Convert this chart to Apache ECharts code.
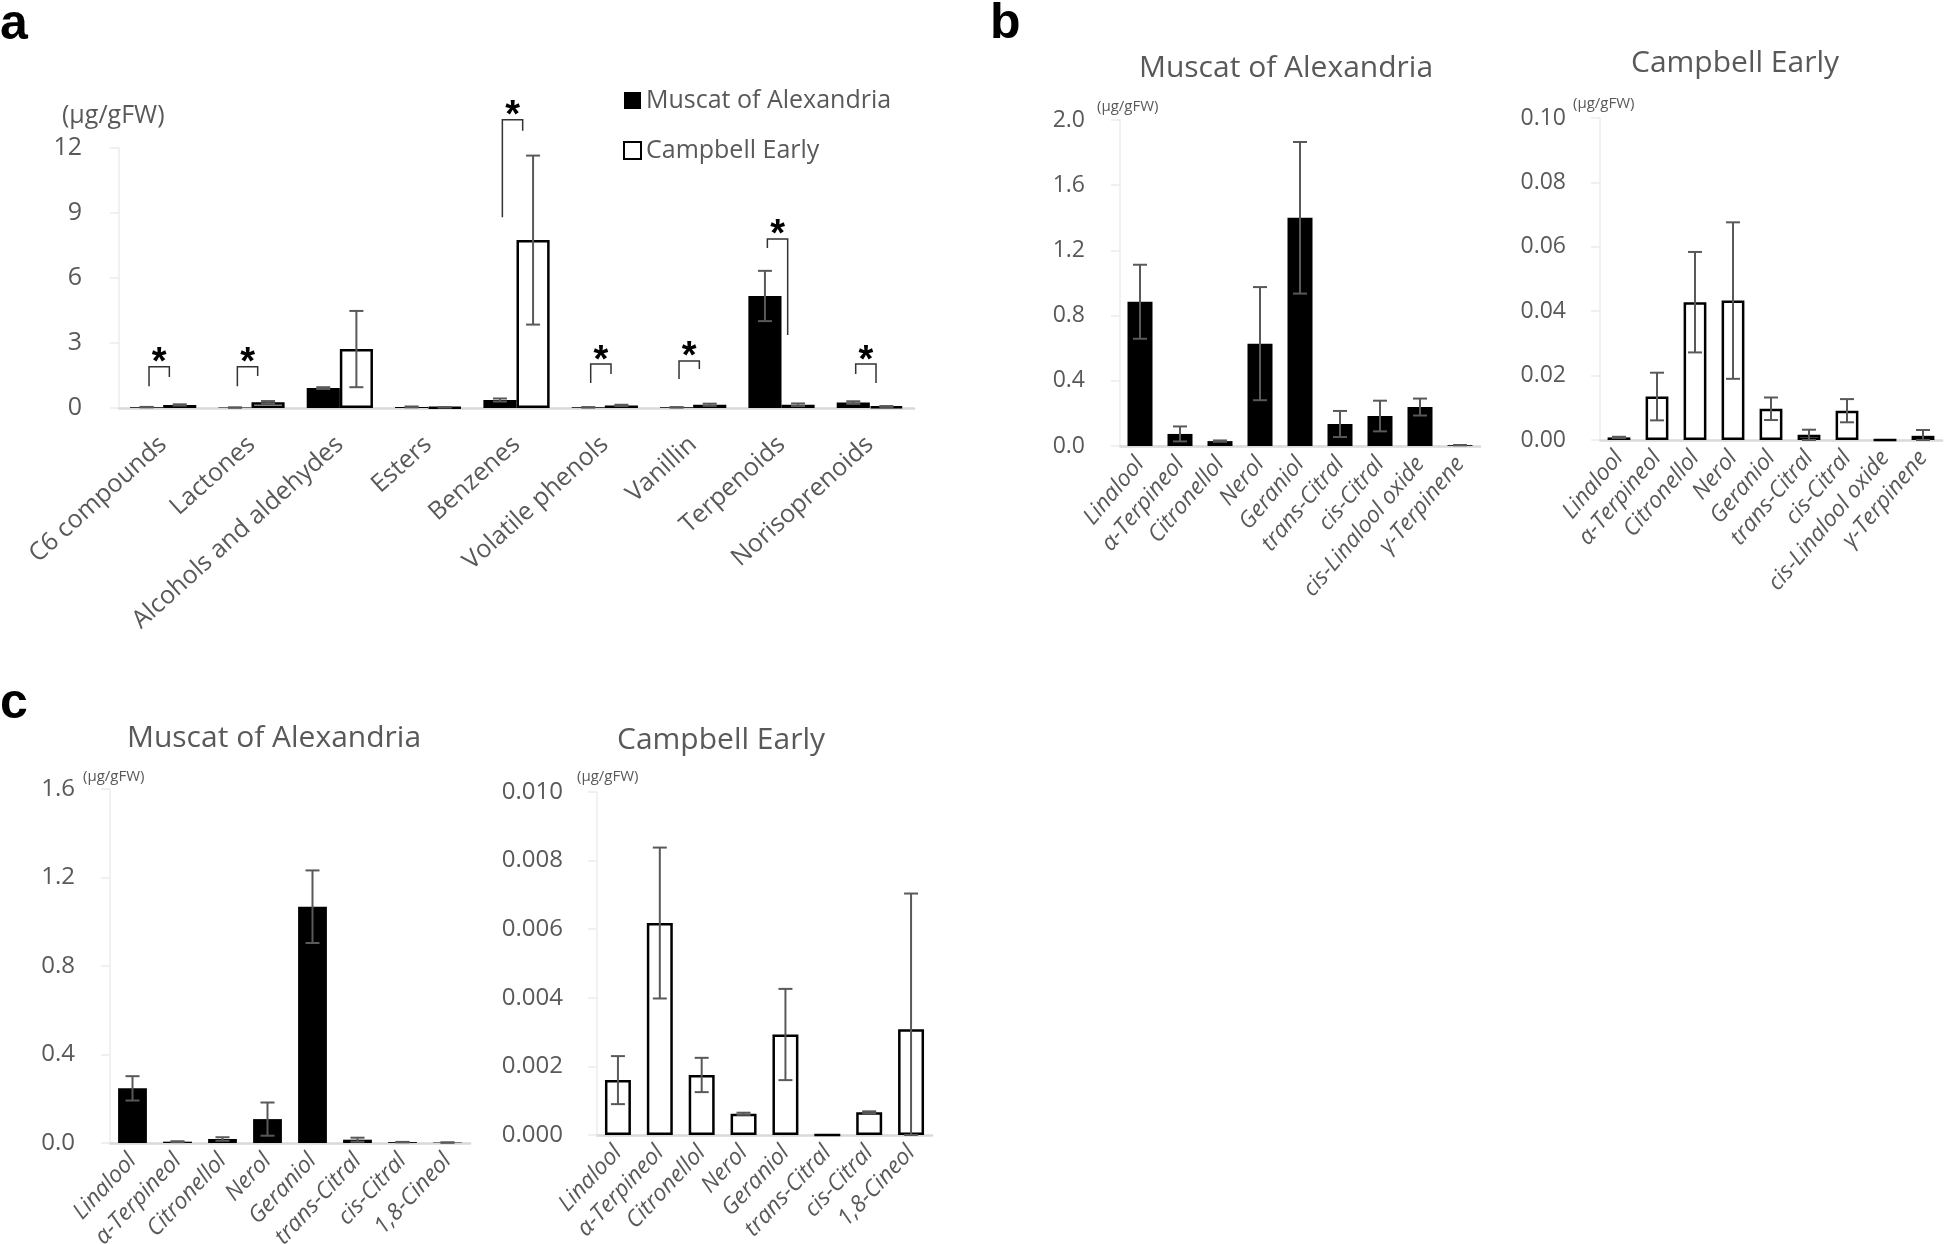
<!DOCTYPE html>
<html>
<head>
<meta charset="utf-8">
<title>Aroma compounds</title>
<script src="https://cdn.jsdelivr.net/npm/echarts@6/dist/echarts.min.js"></script>
<style>
  html, body { margin: 0; padding: 0; background: #fff; }
  #main { width: 1944px; height: 1244px; }
</style>
</head>
<body>
<div id="main"></div>
<script>
// panel a: compound classes
const aCategories = ['C6 compounds', 'Lactones', 'Alcohols and aldehydes', 'Esters', 'Benzenes', 'Volatile phenols', 'Vanillin', 'Terpenoids', 'Norisoprenoids']
const aMuscat = [0.04, 0.02, 0.92, 0.05, 0.37, 0.03, 0.03, 5.17, 0.25]
const aMuscatSd = [0.01, 0.005, 0.04, 0.02, 0.07, 0.01, 0.01, 1.16, 0.06]
const aCampbell = [0.14, 0.26, 2.72, 0.03, 7.75, 0.12, 0.15, 0.15, 0.07]
const aCampbellSd = [0.03, 0.06, 1.76, 0.01, 3.9, 0.03, 0.05, 0.06, 0.02]
// significance brackets: [category, top, left leg bottom, right leg bottom]
const aSignificance = [
  [0, 1.9, 1.0, 1.43],
  [1, 1.9, 1.0, 1.48],
  [4, 13.3, 8.8, 12.8],
  [5, 2.03, 1.15, 1.57],
  [6, 2.17, 1.34, 1.8],
  [7, 7.8, 7.38, 3.37],
  [8, 2.03, 1.57, 1.15]
]
const aTicks = { max: 12, interval: 3 }

// panel b: terpenoids
const bCategories = ['Linalool', 'α-Terpineol', 'Citronellol', 'Nerol', 'Geraniol', 'trans-Citral', 'cis-Citral', 'cis-Linalool oxide', 'γ-Terpinene']
const bMuscat = [0.885, 0.074, 0.03, 0.628, 1.40, 0.135, 0.184, 0.239, 0.005]
const bMuscatSd = [0.227, 0.046, 0.004, 0.347, 0.465, 0.08, 0.094, 0.052, 0.001]
const bCampbell = [0.0008, 0.0135, 0.0428, 0.0433, 0.0097, 0.0016, 0.0091, 0, 0.0013]
const bCampbellSd = [0.0002, 0.0074, 0.0156, 0.0243, 0.0035, 0.0016, 0.0036, 0, 0.0018]
const bMuscatTicks = { max: 2.0, interval: 0.4 }
const bCampbellTicks = { max: 0.10, interval: 0.02 }

// panel c
const cCategories = ['Linalool', 'α-Terpineol', 'Citronellol', 'Nerol', 'Geraniol', 'trans-Citral', 'cis-Citral', '1,8-Cineol']
const cMuscat = [0.247, 0.006, 0.018, 0.108, 1.068, 0.015, 0.004, 0.002]
const cMuscatSd = [0.055, 0.002, 0.008, 0.075, 0.164, 0.009, 0.001, 0.001]
const cCampbell = [0.0016, 0.00618, 0.00175, 0.00062, 0.00293, 0, 0.00066, 0.00308]
const cCampbellSd = [0.0007, 0.0022, 0.0005, 0.00003, 0.00133, 0, 0.00003, 0.00396]
const cMuscatTicks = { max: 1.6, interval: 0.4 }
const cCampbellTicks = { max: 0.010, interval: 0.002 }

const FONT = 'Open Sans'
const GRAY = '#595959'

function errData(vals, sds) {
  return vals.map((v, i) => [i, Math.max(0, v - sds[i]), v + sds[i]])
}

function seg(x1, y1, x2, y2) {
  return { type: 'line', shape: { x1, y1, x2, y2 }, style: { stroke: GRAY, lineWidth: 2 } }
}

// offset is a fraction of the category band (for grouped bars)
function errorRender(offset) {
  return function (params, api) {
    const lo = api.value(1)
    const hi = api.value(2)
    if (hi - lo <= 0) return null
    const band = api.size([1, 0])[0]
    const top = api.coord([api.value(0), hi])
    const bottom = api.coord([api.value(0), lo])
    const x = top[0] + offset * band
    const cap = 7
    return {
      type: 'group',
      children: [
        seg(x, top[1], x, bottom[1]),
        seg(x - cap, top[1], x + cap, top[1]),
        seg(x - cap, bottom[1], x + cap, bottom[1])
      ]
    }
  }
}

function sigRender(params, api) {
  const band = api.size([1, 0])[0]
  const c = api.coord([api.value(0), api.value(1)])
  const xl = c[0] - 0.16 * band
  const xr = c[0] + 0.07 * band
  const yl = api.coord([api.value(0), api.value(2)])[1]
  const yr = api.coord([api.value(0), api.value(3)])[1]
  return {
    type: 'group',
    children: [
      {
        type: 'polyline',
        shape: { points: [[xl, yl], [xl, c[1]], [xr, c[1]], [xr, yr]] },
        style: { stroke: '#333', lineWidth: 1.5, fill: null }
      },
      {
        type: 'text',
        x: (xl + xr) / 2,
        y: c[1] - 3,
        style: { text: '*', fontSize: 38, fontWeight: 'bold', fontFamily: 'Liberation Sans', fill: '#000', align: 'center', verticalAlign: 'middle' }
      }
    ]
  }
}

function catAxis(gridIndex, data, label) {
  return {
    type: 'category',
    gridIndex,
    data,
    axisLine: { lineStyle: { color: '#d9d9d9', width: 2.5 } },
    axisTick: { show: false },
    axisLabel: Object.assign({ interval: 0, color: GRAY, fontFamily: FONT }, label)
  }
}

function valAxis(gridIndex, ticks, digits, fontSize, margin) {
  return {
    type: 'value',
    gridIndex,
    min: 0,
    max: ticks.max,
    interval: ticks.interval,
    splitLine: { show: false },
    axisLine: { show: true, lineStyle: { color: '#ececec', width: 1.5 } },
    axisTick: { show: true, length: 9, lineStyle: { color: '#ececec', width: 1.5 } },
    axisLabel: {
      color: GRAY,
      fontFamily: FONT,
      fontSize,
      margin,
      formatter: v => Number(v).toFixed(digits)
    }
  }
}

function blackBar(name, idx, data, gap) {
  return {
    name, type: 'bar', xAxisIndex: idx, yAxisIndex: idx, data,
    barGap: 0, barCategoryGap: gap,
    itemStyle: { color: '#000' }
  }
}

function whiteBar(name, idx, data, gap) {
  return {
    name, type: 'bar', xAxisIndex: idx, yAxisIndex: idx, data,
    barGap: 0, barCategoryGap: gap,
    itemStyle: { color: '#fff', borderColor: '#000', borderWidth: 2.5 }
  }
}

function errSeries(idx, vals, sds, offset) {
  return {
    type: 'custom', xAxisIndex: idx, yAxisIndex: idx,
    data: errData(vals, sds),
    encode: { x: 0, y: [1, 2] },
    renderItem: errorRender(offset),
    z: 5, silent: true
  }
}

function txt(text, x, y, size, opts) {
  return {
    type: 'text', x, y, silent: true,
    style: Object.assign({ text, fontSize: size, fontFamily: FONT, fill: GRAY, align: 'left', verticalAlign: 'middle' }, opts || {})
  }
}

const bLabel = { rotate: 50, fontSize: 23, fontStyle: 'italic', margin: 14 }
const cLabel = { rotate: 47, fontSize: 23, fontStyle: 'italic', margin: 14 }
const chart = echarts.init(document.getElementById('main'))

chart.setOption({
  animation: false,
  backgroundColor: '#fff',
  grid: [
    { left: 119, top: 148, width: 795, height: 260, outerBoundsMode: 'none' },
    { left: 1120, top: 120, width: 360, height: 326, outerBoundsMode: 'none' },
    { left: 1600, top: 118, width: 342, height: 322, outerBoundsMode: 'none' },
    { left: 110, top: 789, width: 360, height: 354, outerBoundsMode: 'none' },
    { left: 597, top: 792, width: 335, height: 343, outerBoundsMode: 'none' }
  ],
  xAxis: [
    catAxis(0, aCategories, { rotate: 42, fontSize: 25, margin: 33 }),
    catAxis(1, bCategories, bLabel),
    catAxis(2, bCategories, bLabel),
    catAxis(3, cCategories, cLabel),
    catAxis(4, cCategories, cLabel)
  ],
  yAxis: [
    valAxis(0, aTicks, 0, 25, 37),
    valAxis(1, bMuscatTicks, 1, 23, 35),
    valAxis(2, bCampbellTicks, 2, 23, 34),
    valAxis(3, cMuscatTicks, 1, 24, 35),
    valAxis(4, cCampbellTicks, 3, 24, 34)
  ],
  legend: {
    data: ['Muscat of Alexandria', 'Campbell Early'],
    orient: 'vertical',
    left: 623,
    top: 88,
    padding: 0,
    itemWidth: 17,
    itemHeight: 17,
    itemGap: 25,
    icon: 'rect',
    selectedMode: false,
    textStyle: { fontSize: 25, color: GRAY, fontFamily: FONT }
  },
  graphic: [
    txt('a', 0, 25, 50, { fontFamily: 'Liberation Sans', fontWeight: 'bold', fill: '#000' }),
    txt('b', 990, 24, 50, { fontFamily: 'Liberation Sans', fontWeight: 'bold', fill: '#000' }),
    txt('c', 0, 704, 50, { fontFamily: 'Liberation Sans', fontWeight: 'bold', fill: '#000' }),
    txt('(μg/gFW)', 62, 116, 25),
    txt('Muscat of Alexandria', 1286, 68, 30, { align: 'center' }),
    txt('Campbell Early', 1735, 63, 30, { align: 'center' }),
    txt('(μg/gFW)', 1097, 107, 15),
    txt('(μg/gFW)', 1573, 104, 15),
    txt('Muscat of Alexandria', 274, 738, 30, { align: 'center' }),
    txt('Campbell Early', 721, 740, 30, { align: 'center' }),
    txt('(μg/gFW)', 83, 777, 15),
    txt('(μg/gFW)', 577, 777, 15)
  ],
  series: [
    blackBar('Muscat of Alexandria', 0, aMuscat, '25%'),
    whiteBar('Campbell Early', 0, aCampbell, '25%'),
    errSeries(0, aMuscat, aMuscatSd, -0.1875),
    errSeries(0, aCampbell, aCampbellSd, 0.1875),
    {
      type: 'custom', xAxisIndex: 0, yAxisIndex: 0,
      data: aSignificance,
      encode: { x: 0, y: [1, 2, 3] },
      renderItem: sigRender,
      clip: false, z: 6, silent: true
    },
    blackBar('b Muscat', 1, bMuscat, '37.5%'),
    errSeries(1, bMuscat, bMuscatSd, 0),
    whiteBar('b Campbell', 2, bCampbell, '40%'),
    errSeries(2, bCampbell, bCampbellSd, 0),
    blackBar('c Muscat', 3, cMuscat, '36%'),
    errSeries(3, cMuscat, cMuscatSd, 0),
    whiteBar('c Campbell', 4, cCampbell, '38%'),
    errSeries(4, cCampbell, cCampbellSd, 0)
  ]
})
</script>
</body>
</html>
